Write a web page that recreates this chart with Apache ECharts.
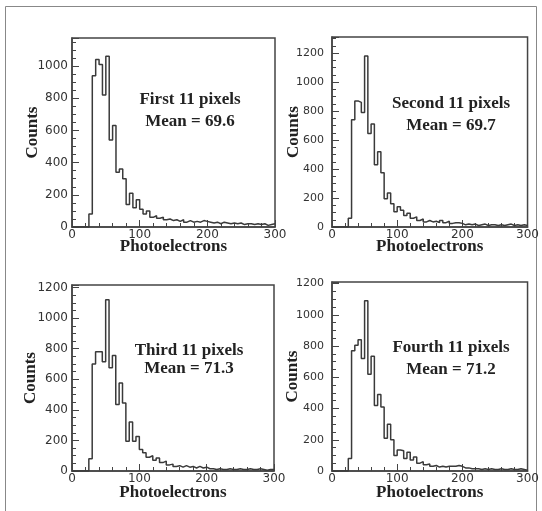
<!DOCTYPE html>
<html>
<head>
<meta charset="utf-8">
<script src="https://cdn.jsdelivr.net/npm/echarts@6/dist/echarts.min.js"></script>
<style>
  html, body { margin: 0; padding: 0; background: #ffffff; }
  #chart { width: 542px; height: 511px; }
</style>
</head>
<body>
<div id="chart"></div>
<script>
// Bin edges of the photoelectron histograms (5 p.e. per bin, 0..300)
const binEdges = [
  0, 5, 10, 15, 20, 25, 30, 35, 40, 45, 50, 55, 60, 65, 70, 75, 80, 85, 90, 95,
  100, 105, 110, 115, 120, 125, 130, 135, 140, 145, 150, 155, 160, 165, 170, 175, 180, 185, 190, 195,
  200, 205, 210, 215, 220, 225, 230, 235, 240, 245, 250, 255, 260, 265, 270, 275, 280, 285, 290, 295,
  300
];

// Counts per bin, one array per group of 11 pixels
const firstCounts = [
  0, 0, 0, 0, 0, 80, 940, 1040, 1010, 820, 1060, 540, 630, 340, 360, 300, 140, 210, 120, 170,
  110, 80, 100, 60, 70, 55, 60, 45, 50, 40, 45, 35, 45, 30, 40, 30, 35, 30, 40, 35,
  30, 25, 30, 20, 30, 25, 20, 25, 20, 25, 15, 20, 20, 15, 20, 15, 20, 10, 15, 20
];
const secondCounts = [
  0, 0, 0, 0, 0, 60, 740, 870, 860, 790, 1180, 645, 710, 430, 520, 375, 195, 235, 160, 105,
  140, 115, 80, 95, 60, 70, 45, 55, 35, 45, 35, 40, 30, 45, 30, 40, 25, 30, 30, 25,
  15, 20, 15, 20, 10, 15, 20, 10, 15, 15, 10, 15, 10, 15, 20, 10, 15, 10, 15, 10
];
const thirdCounts = [
  0, 0, 0, 0, 0, 80, 700, 780, 780, 715, 1120, 675, 755, 435, 575, 445, 195, 320, 195, 225,
  140, 120, 90, 100, 70, 85, 55, 65, 40, 45, 30, 35, 25, 35, 25, 30, 20, 30, 20, 25,
  15, 15, 10, 15, 10, 10, 15, 10, 10, 15, 10, 10, 15, 10, 10, 15, 10, 5, 10, 10
];
const fourthCounts = [
  0, 0, 0, 0, 0, 80, 770, 805, 840, 720, 1090, 620, 735, 420, 490, 410, 210, 300, 200, 100,
  135, 130, 80, 120, 70, 90, 50, 60, 40, 45, 30, 35, 25, 30, 25, 30, 30, 30, 35, 30,
  20, 20, 15, 15, 15, 10, 15, 10, 15, 10, 10, 15, 10, 10, 15, 10, 10, 15, 10, 5
];

const panelTitles = ['First 11 pixels', 'Second 11 pixels', 'Third 11 pixels', 'Fourth 11 pixels'];
const panelMeans = ['Mean = 69.6', 'Mean = 69.7', 'Mean = 71.3', 'Mean = 71.2'];
const panelCounts = [firstCounts, secondCounts, thirdCounts, fourthCounts];
const panelYMax = [1174, 1311, 1217, 1210];

// Layout of the four pads (pixels)
const pads = [
  { left: 72,  top: 38,  width: 203, height: 189, yGap: 31, xGap: 11, yFont: 12, yMargin: 4, tx: 190, ty: 100, my: 122 },
  { left: 332, top: 37,  width: 200, height: 190, yGap: 30, xGap: 11, yFont: 11, yMargin: 8, tx: 451, ty: 104, my: 126 },
  { left: 72,  top: 285, width: 202, height: 186, yGap: 33, xGap: 13, yFont: 12, yMargin: 4, tx: 189, ty: 351, my: 369 },
  { left: 332, top: 282, width: 200, height: 189, yGap: 31, xGap: 13, yFont: 11, yMargin: 8, tx: 451, ty: 348, my: 370 }
];

const frameColor = '#444';
const lineColor = '#3a3a3a';
const tickFont = 'DejaVu Sans';
const serif = '"Liberation Serif", "Times New Roman", serif';

function stepPoints(counts) {
  const pts = counts.map((c, i) => [binEdges[i], c]);
  pts.push([binEdges[binEdges.length - 1], counts[counts.length - 1]]);
  return pts;
}

const grid = [], xAxis = [], yAxis = [], series = [], graphic = [];

pads.forEach((p, i) => {
  grid.push({
    left: p.left, top: p.top, width: p.width, height: p.height,
    show: true, borderColor: frameColor, borderWidth: 1.5, backgroundColor: 'transparent'
  });
  xAxis.push({
    type: 'value', gridIndex: i, min: 0, max: 300, interval: 100,
    axisLine: { show: true, onZero: false, lineStyle: { color: frameColor, width: 1.5 } },
    axisTick: { show: true, inside: true, length: 7, lineStyle: { color: frameColor } },
    minorTick: { show: true, splitNumber: 5, length: 4, lineStyle: { color: frameColor } },
    splitLine: { show: false },
    axisLabel: { fontFamily: tickFont, fontSize: 12, color: '#333', margin: 2 },
    name: 'Photoelectrons', nameLocation: 'middle', nameGap: p.xGap, nameMoveOverlap: false,
    nameTextStyle: { fontFamily: serif, fontWeight: 'bold', fontSize: 17, color: '#222' }
  });
  yAxis.push({
    type: 'value', gridIndex: i, min: 0, max: panelYMax[i], interval: 200,
    axisLine: { show: true, onZero: false, lineStyle: { color: frameColor, width: 1.5 } },
    axisTick: { show: true, inside: true, length: 7, lineStyle: { color: frameColor } },
    minorTick: { show: true, splitNumber: 4, length: 4, lineStyle: { color: frameColor } },
    splitLine: { show: false },
    axisLabel: {
      fontFamily: tickFont, fontSize: p.yFont, color: '#333', margin: p.yMargin, showMaxLabel: false,
      formatter: v => (v % 200 === 0 ? String(v) : '')
    },
    name: 'Counts', nameLocation: 'middle', nameGap: p.yGap, nameMoveOverlap: false,
    nameTextStyle: { fontFamily: serif, fontWeight: 'bold', fontSize: 17, color: '#222' }
  });
  series.push({
    type: 'line', xAxisIndex: i, yAxisIndex: i, step: 'end',
    data: stepPoints(panelCounts[i]),
    symbol: 'none', clip: true, animation: false,
    lineStyle: { color: lineColor, width: 1.5 }
  });
  // Group label and mean, drawn inside each pad
  graphic.push({
    type: 'text', x: p.tx, y: p.ty, silent: true,
    style: { text: panelTitles[i], font: 'bold 17px ' + serif, fill: '#222', align: 'center', verticalAlign: 'middle' }
  });
  graphic.push({
    type: 'text', x: p.tx, y: p.my, silent: true,
    style: { text: panelMeans[i], font: 'bold 17px ' + serif, fill: '#222', align: 'center', verticalAlign: 'middle' }
  });
});

// Outer frame of the figure
graphic.push({
  type: 'rect', silent: true, z: -1,
  shape: { x: 5.5, y: 6.5, width: 531, height: 520 },
  style: { fill: 'none', stroke: '#888', lineWidth: 1 }
});

const chart = echarts.init(document.getElementById('chart'), null, { renderer: 'canvas' });
chart.setOption({
  animation: false,
  backgroundColor: '#ffffff',
  grid, xAxis, yAxis, series, graphic
});
</script>
</body>
</html>
